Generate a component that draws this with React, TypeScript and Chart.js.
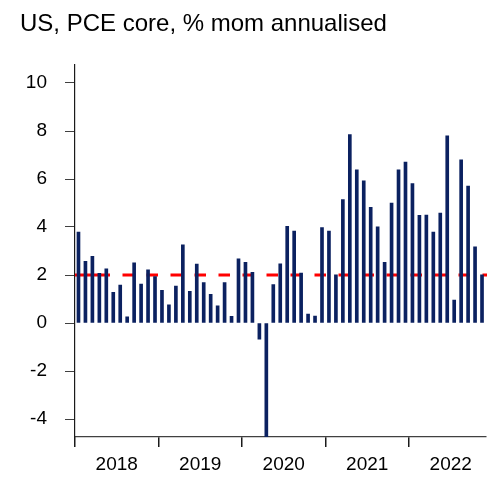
import React, { useEffect, useRef } from 'react';
import { Chart, registerables } from 'chart.js';

Chart.register(...registerables);

const TITLE = 'US, PCE core, % mom annualised';
const YEARS = ['2018', '2019', '2020', '2021', '2022'];
const MONTH_NAMES = ['Jan', 'Feb', 'Mar', 'Apr', 'May', 'Jun', 'Jul', 'Aug', 'Sep', 'Oct', 'Nov', 'Dec'];

// Core PCE, % m/m annualised, Jan 2018 - Nov 2022
const VALUES_2018 = [3.79, 2.57, 2.78, 2.07, 2.26, 1.28, 1.58, 0.26, 2.51, 1.62, 2.22, 1.93];
const VALUES_2019 = [1.36, 0.76, 1.54, 3.26, 1.32, 2.46, 1.68, 1.19, 0.72, 1.68, 0.28, 2.67];
const VALUES_2020 = [2.53, 2.11, -0.67, -5.3, 1.6, 2.47, 4.03, 3.83, 2.08, 0.37, 0.29, 3.98];
const VALUES_2021 = [3.83, 2.01, 5.14, 7.85, 6.38, 5.92, 4.82, 4.01, 2.53, 5.0, 6.38, 6.71];
const VALUES_2022 = [5.81, 4.49, 4.5, 3.79, 4.58, 7.8, 0.95, 6.8, 5.71, 3.17, 2.01];

const VALUES = [...VALUES_2018, ...VALUES_2019, ...VALUES_2020, ...VALUES_2021, ...VALUES_2022];
const MONTHS = VALUES.map((_, i) => `${MONTH_NAMES[i % 12]} ${YEARS[Math.floor(i / 12)]}`);

const TARGET = 2;
const Y_TICKS = [-4, -2, 0, 2, 4, 6, 8, 10];
const Y_MIN = -4.75;
const Y_MAX = 10.75;

const BAR_COLOR = '#0b2160';
const TARGET_COLOR = '#ff0000';
const FONT = "'Liberation Sans', Arial, Helvetica, sans-serif";

const targetLine = {
  id: 'targetLine',
  beforeDatasetsDraw(chart: any) {
    const { ctx, chartArea } = chart;
    const y = chart.scales.y.getPixelForValue(TARGET);
    ctx.save();
    ctx.strokeStyle = TARGET_COLOR;
    ctx.lineWidth = 3.2;
    const dash: number[] = [35, 12.5];
    for (let i = 0; i < 40; i++) dash.push(11.5, 12.5);
    ctx.setLineDash(dash);
    ctx.beginPath();
    ctx.moveTo(chartArea.left, y);
    ctx.lineTo(chartArea.right + 1.5, y);
    ctx.stroke();
    ctx.restore();
  },
};

export default function App() {
  const ref = useRef<HTMLCanvasElement>(null);

  useEffect(() => {
    if (!ref.current) return;
    const chart = new Chart(ref.current, {
      type: 'bar',
      data: {
        labels: MONTHS,
        datasets: [
          {
            label: 'PCE core',
            data: VALUES.map((v, i) => ({ x: i + 0.5, y: v })),
            backgroundColor: BAR_COLOR,
            borderWidth: 0,
            barThickness: 3,
            clip: 0,
          } as any,
        ],
      },
      options: {
        animation: false,
        responsive: true,
        maintainAspectRatio: false,
        layout: { padding: { left: 20, right: 1.5, top: 0, bottom: 0 } },
        plugins: {
          legend: { display: false },
          tooltip: { enabled: false },
          title: {
            display: true,
            text: TITLE,
            align: 'start',
            color: '#000',
            font: { family: FONT, size: 24, weight: 'normal' },
            padding: { top: 10, bottom: 26.2 },
          },
        },
        scales: {
          x: {
            type: 'linear',
            offset: false,
            min: 0,
            max: VALUES.length,
            afterBuildTicks: (scale: any) => {
              const t = [];
              for (let v = 0; v < VALUES.length; v += 6) t.push({ value: v });
              scale.ticks = t;
            },
            afterFit: (scale: any) => {
              scale.height = 49;
            },
            grid: {
              offset: false,
              drawOnChartArea: false,
              drawTicks: true,
              tickLength: 10,
              lineWidth: 1.5,
              color: (ctx: any) => (ctx.tick && ctx.tick.value % 12 === 0 ? '#1a1a1a' : 'rgba(0,0,0,0)'),
            },
            border: { display: true, color: '#404040', width: 1.2 },
            ticks: {
              autoSkip: false,
              maxRotation: 0,
              minRotation: 0,
              padding: 6,
              color: '#000',
              font: { family: FONT, size: 19 },
              callback: (v: any) => (v % 12 === 6 ? YEARS[(v - 6) / 12] : ''),
            },
          },
          y: {
            min: Y_MIN,
            max: Y_MAX,
            afterBuildTicks: (scale: any) => {
              scale.ticks = Y_TICKS.map((v) => ({ value: v }));
            },
            afterFit: (scale: any) => {
              scale.width = 55;
            },
            grid: {
              drawOnChartArea: false,
              drawTicks: true,
              tickLength: 10,
              color: '#404040',
            },
            border: { display: true, color: '#1a1a1a', width: 1.2 },
            ticks: {
              padding: 18,
              color: '#000',
              font: { family: FONT, size: 19 },
              callback: (v: any) => String(v),
            },
          },
        },
      },
      plugins: [targetLine],
    });
    return () => chart.destroy();
  }, []);

  return (
    <div style={{ position: 'fixed', left: 0, top: 0, width: 487, height: 486, background: '#fff' }}>
      <canvas ref={ref} />
    </div>
  );
}
